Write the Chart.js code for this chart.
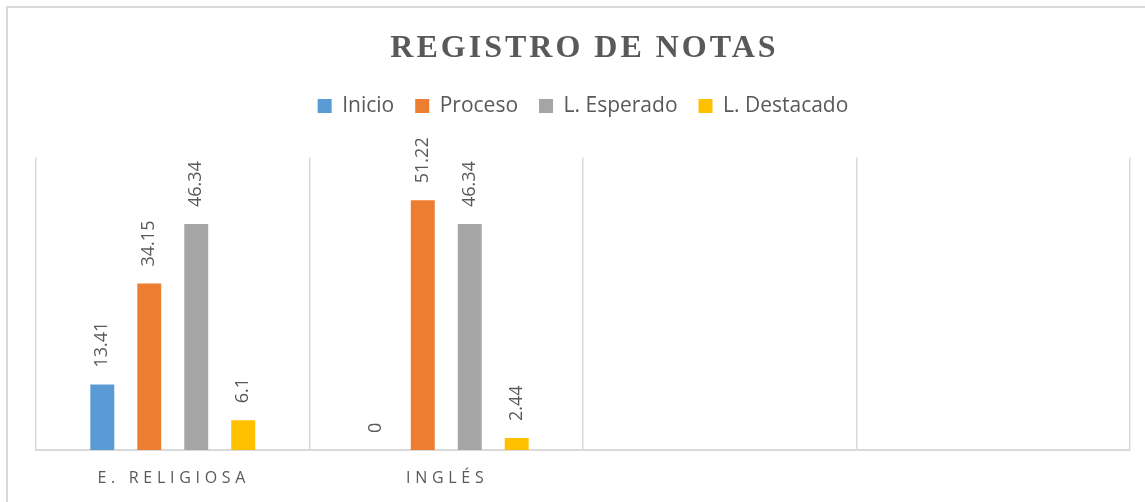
<!DOCTYPE html>
<html lang="es">
<head>
<meta charset="UTF-8">
<title>Registro de notas</title>
<script src="https://cdn.jsdelivr.net/npm/chart.js@4.4.1/dist/chart.umd.min.js"></script>
<style>
    html, body { margin: 0; padding: 0; background: #fff; }
    .chart-box { position: relative; width: 1145px; height: 502px; }
</style>
</head>
<body>
<div class="chart-box">
    <canvas id="notas-chart" width="1145" height="502"></canvas>
</div>
<script>
// Datos
const categorias = ['E. RELIGIOSA', 'INGLÉS', '', ''];
const inicio = [13.41, 0, null, null];
const proceso = [34.15, 51.22, null, null];
const esperado = [46.34, 46.34, null, null];
const destacado = [6.1, 2.44, null, null];

const titulo = 'REGISTRO DE NOTAS';
const gris = '#595959';
const lineas = '#d9d9d9';

document.addEventListener('DOMContentLoaded', function() {
    // Marco exterior (solo izquierda y arriba)
    const marco = {
        id: 'marco',
        beforeDraw: function(chart) {
            const ctx = chart.ctx;
            ctx.save();
            ctx.fillStyle = lineas;
            ctx.fillRect(6, 6, 2, 496);
            ctx.fillRect(6, 6, 1139, 2);
            ctx.restore();
        }
    };

    // Más aire entre la leyenda y el área del gráfico
    const espacioLeyenda = {
        id: 'espacioLeyenda',
        beforeLayout: function(chart) {
            const lg = chart.legend;
            if (lg && !lg._conEspacio) {
                const fitOriginal = lg.fit;
                lg.fit = function() {
                    fitOriginal.call(this);
                    this.height += 31;
                };
                lg._conEspacio = true;
            }
        }
    };

    // Título con espaciado entre letras
    const tituloEspaciado = {
        id: 'tituloEspaciado',
        afterDraw: function(chart) {
            const ctx = chart.ctx;
            const t = chart.titleBlock;
            ctx.save();
            ctx.font = 'bold 32px "Liberation Serif"';
            ctx.letterSpacing = '3px';
            ctx.fillStyle = gris;
            ctx.textAlign = 'center';
            ctx.textBaseline = 'middle';
            ctx.fillText(titulo, (t.left + t.right) / 2 + 1.5, t.top + 30 + 19);
            ctx.restore();
        }
    };

    // Etiquetas de categoría espaciadas
    const etiquetasX = {
        id: 'etiquetasX',
        afterDraw: function(chart) {
            const ctx = chart.ctx;
            const x = chart.scales.x;
            ctx.save();
            ctx.font = '16px "Open Sans"';
            ctx.letterSpacing = '4.7px';
            ctx.fillStyle = gris;
            ctx.textAlign = 'center';
            ctx.textBaseline = 'middle';
            categorias.forEach(function(cat, i) {
                if (cat) ctx.fillText(cat, x.getPixelForTick(i) + 1, x.top + 28);
            });
            ctx.restore();
        }
    };

    // Valores encima de las barras, girados
    const valores = {
        id: 'valores',
        afterDatasetsDraw: function(chart) {
            const ctx = chart.ctx;
            ctx.save();
            ctx.font = '18px "Open Sans"';
            ctx.fillStyle = gris;
            ctx.textAlign = 'left';
            ctx.textBaseline = 'middle';
            chart.data.datasets.forEach(function(ds, d) {
                chart.getDatasetMeta(d).data.forEach(function(bar, i) {
                    const v = ds.data[i];
                    if (v === null || v === undefined) return;
                    ctx.save();
                    ctx.translate(bar.x, bar.y - 17);
                    ctx.rotate(-Math.PI / 2);
                    ctx.fillText(String(v), 0, 0);
                    ctx.restore();
                });
            });
            ctx.restore();
        }
    };

    const ctx = document.getElementById('notas-chart').getContext('2d');
    const notasChart = new Chart(ctx, {
        type: 'bar',
        data: {
            labels: categorias,
            datasets: [
                { label: 'Inicio', data: inicio, backgroundColor: '#5b9bd5' },
                { label: 'Proceso', data: proceso, backgroundColor: '#ed7d31' },
                { label: 'L. Esperado', data: esperado, backgroundColor: '#a5a5a5' },
                { label: 'L. Destacado', data: destacado, backgroundColor: '#ffc000' }
            ]
        },
        options: {
            responsive: false,
            animation: false,
            borderWidth: 0,
            categoryPercentage: 0.687,
            barPercentage: 0.51,
            layout: {
                padding: { left: 36, right: 15, top: 0, bottom: 28 }
            },
            plugins: {
                title: {
                    display: true,
                    text: titulo,
                    color: 'rgba(0,0,0,0)',
                    font: { family: 'Liberation Serif', size: 32, weight: 'bold' },
                    padding: { top: 28, bottom: 8 }
                },
                legend: {
                    position: 'top',
                    labels: {
                        color: gris,
                        font: { family: 'Open Sans', size: 21 },
                        boxWidth: 14,
                        boxHeight: 14,
                        padding: 21
                    }
                },
                tooltip: { enabled: false }
            },
            scales: {
                x: {
                    grid: {
                        color: lineas,
                        lineWidth: 1.5,
                        drawTicks: false
                    },
                    border: { color: lineas, width: 2 },
                    ticks: {
                        color: 'rgba(0,0,0,0)',
                        font: { family: 'Open Sans', size: 15 }
                    }
                },
                y: {
                    display: false,
                    min: 0,
                    max: 60
                }
            }
        },
        plugins: [marco, espacioLeyenda, tituloEspaciado, etiquetasX, valores]
    });
});
</script>
</body>
</html>
